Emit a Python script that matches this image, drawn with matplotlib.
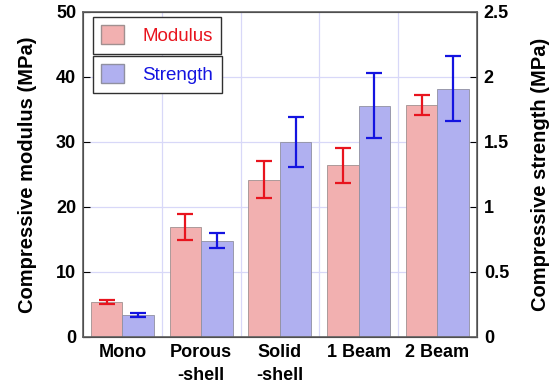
import numpy as np
import matplotlib.pyplot as plt
from matplotlib.patches import Patch

plt.rcParams['font.family'] = ['Liberation Sans', 'DejaVu Sans']

# Sample groups
groups = ["Mono", "Porous\n-shell", "Solid\n-shell", "1 Beam", "2 Beam"]

# Compressive modulus (MPa), left axis
modulus = [5.4, 16.9, 24.2, 26.4, 35.7]
modulus_err = [0.35, 2.0, 2.9, 2.7, 1.5]

# Compressive strength (MPa), right axis
strength = [0.165, 0.74, 1.50, 1.78, 1.91]
strength_err = [0.015, 0.06, 0.19, 0.25, 0.25]

x = np.arange(1, len(groups) + 1)
w = 0.4

fig = plt.figure(figsize=(5.5, 3.85), dpi=100)
ax = fig.add_axes([0.151, 0.125, 0.716, 0.844])
ax2 = ax.twinx()

# light blue grid at tick values and between groups
grid_col = "#d8d8f8"
for v in [10, 20, 30, 40]:
    ax.axhline(v, color=grid_col, lw=0.9, zorder=0)
for v in x[:-1] + 0.5:
    ax.axvline(v, color=grid_col, lw=0.9, zorder=0)

ax.bar(x - w / 2, modulus, w, color="#f2b0b0", edgecolor="#a09090", lw=0.6, zorder=2)
ax.errorbar(x - w / 2, modulus, yerr=modulus_err, fmt="none", ecolor="#e8141e",
            elinewidth=1.6, capsize=6, capthick=1.6, zorder=3)

ax2.bar(x + w / 2, strength, w, color="#b0b0f0", edgecolor="#9090a0", lw=0.6, zorder=2)
ax2.errorbar(x + w / 2, strength, yerr=strength_err, fmt="none", ecolor="#1414e0",
             elinewidth=1.6, capsize=6, capthick=1.6, zorder=3)

ax.set_xlim(0.5, 5.5)
ax.set_ylim(0, 50)
ax2.set_ylim(0, 2.5)
ax.set_yticks([0, 10, 20, 30, 40, 50])
ax2.set_yticks([0, 0.5, 1, 1.5, 2, 2.5])
ax2.set_yticklabels(["0", "0.5", "1", "1.5", "2", "2.5"])
ax.set_xticks(x)
ax.set_xticklabels(groups, fontsize=13, fontweight="bold", linespacing=1.45)
ax.tick_params(axis="x", length=0, pad=5)
ax.tick_params(axis="y", direction="in", length=5, labelsize=13, width=0.8, pad=5)
ax2.tick_params(axis="y", direction="in", length=5, labelsize=13, width=0.8, pad=5)
for lab in ax.get_yticklabels() + ax2.get_yticklabels():
    lab.set_fontweight("bold")

for sp in ax2.spines.values():
    sp.set_color("#606060")
    sp.set_linewidth(1.2)

ax.set_ylabel("Compressive modulus (MPa)", fontsize=14.5, fontweight="bold", labelpad=14)
ax2.set_ylabel("Compressive strength (MPa)", fontsize=14.5, fontweight="bold", labelpad=16)

# Two separate legend boxes
leg1 = ax2.legend(handles=[Patch(facecolor="#f2b0b0", edgecolor="#a09090", label="Modulus")],
                  loc="upper left", bbox_to_anchor=(0.025, 0.985), fontsize=13.5,
                  fancybox=False, edgecolor="#303030", framealpha=1, borderaxespad=0,
                  handlelength=1.2, handleheight=1.2, borderpad=0.45, handletextpad=1.0,
                  labelcolor="#e8141e")
leg1.get_frame().set_linewidth(1.0)
ax2.add_artist(leg1)
leg2 = ax2.legend(handles=[Patch(facecolor="#b0b0f0", edgecolor="#9090a0", label="Strength")],
                  loc="upper left", bbox_to_anchor=(0.025, 0.865), fontsize=13.5,
                  fancybox=False, edgecolor="#303030", framealpha=1, borderaxespad=0,
                  handlelength=1.2, handleheight=1.2, borderpad=0.45, handletextpad=1.0,
                  labelcolor="#1414e0")
leg2.get_frame().set_linewidth(1.0)

fig.savefig("out.png", dpi=100)
